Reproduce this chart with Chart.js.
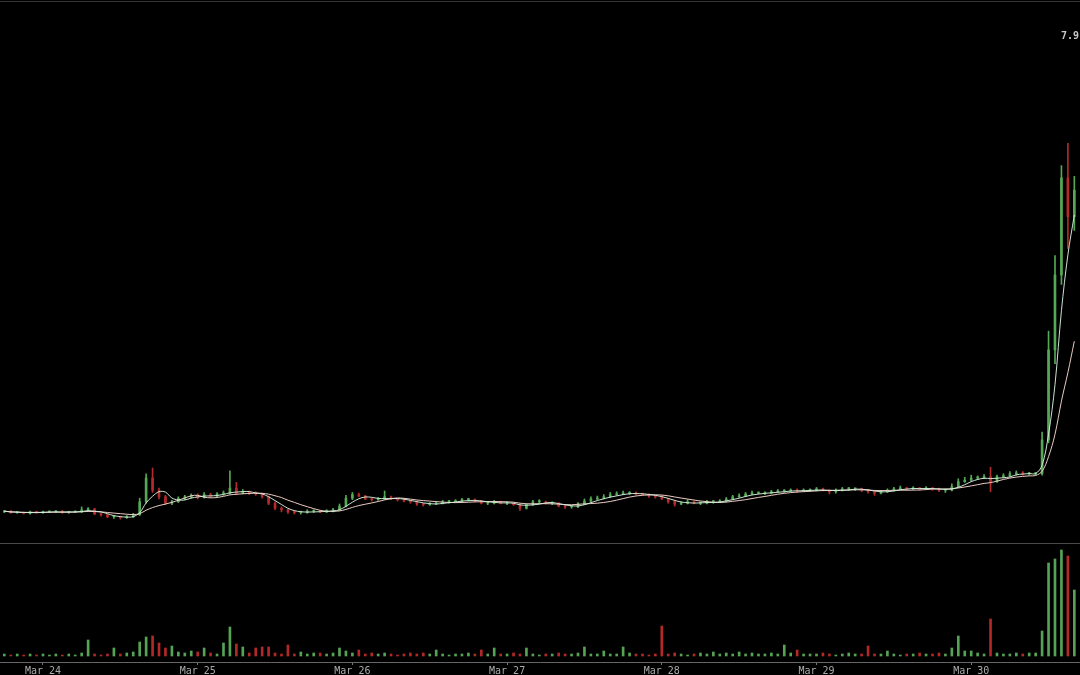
<!DOCTYPE html>
<html>
<head>
<meta charset="utf-8">
<script src="https://cdn.jsdelivr.net/npm/chart.js@4.4.1/dist/chart.umd.min.js"></script>
<style>
  html, body { margin:0; padding:0; background:#000; overflow:hidden; }
  #wrap { position:relative; width:1080px; height:675px; }
  #price { position:absolute; left:0; top:0; }
  #vol   { position:absolute; left:0; top:543px; }
  .rule  { position:absolute; left:0; width:1080px; height:1px; }
</style>
</head>
<body>
<div id="wrap">
  <canvas id="price" width="1080" height="543"></canvas>
  <canvas id="vol" width="1080" height="132"></canvas>
  <div class="rule" style="top:1px; background:#333"></div>
  <div class="rule" style="top:543px; background:#4a4a4a"></div>
</div>
<script>
// ============================================================
// Hourly candles, Mar 23 18:00 -> Mar 30 16:00 (hour 0 = Mar 24 00:00)
// ============================================================

const startHour = -6;
const firstOpen = 1.29;

const closes = [
  1.30,1.28,1.28,1.27,1.29,1.28,
  // Mar 24
  1.29,1.29,1.30,1.28,1.29,1.29,1.32,1.33,1.26,1.25,1.22,1.22,1.21,1.22,1.25,1.43,1.76,1.59,1.50,1.41,1.43,1.48,1.50,1.52,
  // Mar 25
  1.49,1.53,1.51,1.54,1.55,1.62,1.55,1.57,1.55,1.54,1.50,1.41,1.34,1.32,1.29,1.28,1.28,1.30,1.30,1.29,1.30,1.32,1.37,1.48,
  // Mar 26
  1.53,1.51,1.47,1.46,1.47,1.50,1.47,1.46,1.44,1.43,1.40,1.39,1.40,1.41,1.43,1.43,1.44,1.46,1.46,1.44,1.41,1.41,1.43,1.41,
  // Mar 27
  1.41,1.39,1.34,1.39,1.43,1.43,1.41,1.41,1.37,1.36,1.36,1.40,1.44,1.47,1.48,1.50,1.53,1.54,1.55,1.55,1.54,1.53,1.51,1.50,
  // Mar 28
  1.47,1.43,1.40,1.41,1.43,1.41,1.41,1.43,1.43,1.44,1.47,1.50,1.51,1.54,1.55,1.55,1.55,1.57,1.58,1.58,1.59,1.58,1.59,1.59,
  // Mar 29
  1.61,1.59,1.57,1.59,1.61,1.61,1.61,1.59,1.57,1.55,1.57,1.59,1.61,1.62,1.61,1.62,1.61,1.62,1.61,1.59,1.59,1.64,1.71,1.73,
  // Mar 30
  1.76,1.76,1.78,1.71,1.78,1.79,1.82,1.83,1.82,1.82,1.82,2.29,3.54,4.58,5.93,5.39,5.76
];

const highs = [
  1.31,1.31,1.29,1.29,1.30,1.30,
  1.30,1.30,1.31,1.31,1.30,1.30,1.36,1.35,1.34,1.27,1.26,1.24,1.23,1.24,1.27,1.48,1.82,1.90,1.62,1.52,1.45,1.50,1.52,1.54,
  1.54,1.56,1.55,1.56,1.58,1.86,1.70,1.60,1.58,1.57,1.55,1.51,1.43,1.36,1.33,1.31,1.30,1.32,1.32,1.31,1.32,1.34,1.40,1.52,
  1.56,1.55,1.52,1.48,1.49,1.58,1.51,1.48,1.47,1.45,1.44,1.41,1.42,1.43,1.45,1.45,1.46,1.48,1.48,1.47,1.45,1.43,1.45,1.44,
  1.43,1.42,1.40,1.40,1.45,1.46,1.44,1.43,1.42,1.38,1.38,1.42,1.47,1.50,1.51,1.53,1.56,1.57,1.58,1.57,1.57,1.55,1.54,1.52,
  1.52,1.48,1.45,1.43,1.46,1.44,1.43,1.45,1.45,1.46,1.49,1.52,1.54,1.56,1.58,1.57,1.57,1.59,1.60,1.60,1.61,1.61,1.61,1.61,
  1.63,1.62,1.60,1.61,1.63,1.63,1.62,1.62,1.60,1.58,1.59,1.61,1.63,1.65,1.63,1.64,1.63,1.64,1.63,1.62,1.61,1.68,1.75,1.77,
  1.80,1.79,1.81,1.91,1.80,1.82,1.85,1.86,1.85,1.84,1.84,2.40,3.80,4.85,6.10,6.41,5.95
];

const lows = [
  1.28,1.27,1.27,1.26,1.26,1.27,
  1.27,1.28,1.28,1.27,1.27,1.28,1.28,1.30,1.25,1.23,1.21,1.20,1.19,1.20,1.21,1.24,1.41,1.56,1.47,1.39,1.39,1.42,1.46,1.48,
  1.47,1.48,1.49,1.50,1.52,1.54,1.53,1.54,1.53,1.52,1.48,1.39,1.32,1.29,1.27,1.26,1.26,1.27,1.28,1.28,1.28,1.29,1.31,1.36,
  1.46,1.50,1.46,1.44,1.45,1.46,1.46,1.44,1.43,1.41,1.38,1.37,1.38,1.39,1.40,1.41,1.42,1.43,1.44,1.43,1.40,1.39,1.40,1.40,
  1.39,1.38,1.31,1.33,1.38,1.41,1.40,1.39,1.36,1.34,1.34,1.35,1.39,1.43,1.46,1.47,1.49,1.52,1.53,1.53,1.53,1.52,1.49,1.48,
  1.46,1.41,1.37,1.39,1.40,1.40,1.39,1.40,1.41,1.42,1.43,1.46,1.49,1.50,1.53,1.54,1.53,1.54,1.56,1.56,1.57,1.56,1.57,1.58,
  1.58,1.58,1.54,1.55,1.58,1.59,1.59,1.57,1.55,1.52,1.54,1.56,1.58,1.60,1.59,1.60,1.59,1.60,1.59,1.57,1.56,1.58,1.63,1.70,
  1.72,1.74,1.75,1.57,1.70,1.76,1.78,1.80,1.80,1.80,1.80,1.80,2.25,3.35,4.45,4.95,5.20
];

const volumes = [
  2,1,2,1,2,1,
  2,1,2,1,2,1,3,16,2,1,2,8,2,3,4,14,19,20,13,8,10,4,3,5,
  4,8,3,2,13,29,12,9,3,8,9,9,3,2,11,2,4,2,3,3,2,3,8,5,
  3,6,2,3,2,3,2,1,2,3,2,3,2,6,2,1,2,2,3,2,6,2,8,2,
  2,3,2,8,2,1,2,2,3,2,2,3,9,2,2,5,2,2,9,3,2,2,1,2,
  30,2,3,2,1,2,3,2,4,2,3,2,4,2,3,2,2,3,2,11,3,6,2,2,
  2,3,2,1,2,3,2,2,10,2,2,5,2,1,2,2,3,2,2,3,2,8,20,5,
  5,3,2,37,3,2,2,3,2,3,3,25,93,97,106,100,66
];

const dayTicks  = [0, 24, 48, 72, 96, 120, 144];
const dayLabels = ['Mar 24','Mar 25','Mar 26','Mar 27','Mar 28','Mar 29','Mar 30'];
const priceMarks = [7.9];

const X_MIN = -6.67, X_MAX = 160.88;
const Y_MIN = 0.858, Y_MAX = 8.4;
const UP = '#55a855', DOWN = '#b52a2a';
const VOL_UP = '#55a355', VOL_DOWN = '#b32828';

// ---- derived
const hours = closes.map((_, i) => startHour + i);
const opens = closes.map((c, i) => i === 0 ? firstOpen : closes[i - 1]);
const isUp  = closes.map((c, i) => c >= opens[i]);

function sma(n) {
  return closes.map((_, i) => {
    const win = closes.slice(Math.max(0, i - n + 1), i + 1);
    return { x: hours[i], y: win.reduce((s, v) => s + v, 0) / win.length };
  });
}

const priceLabel = {
  id: 'priceLabel',
  afterDraw(chart) {
    const { ctx, chartArea, scales: { y } } = chart;
    ctx.save();
    ctx.font = 'bold 10px "DejaVu Sans Mono"';
    ctx.fillStyle = '#c8c8c8';
    ctx.textAlign = 'right';
    ctx.textBaseline = 'middle';
    priceMarks.forEach(v => ctx.fillText(v.toFixed(1), chartArea.right - 1, y.getPixelForValue(v)));
    ctx.restore();
  }
};

new Chart(document.getElementById('price'), {
  type: 'bar',
  data: {
    datasets: [
      { type: 'line', data: sma(4), borderColor: 'rgba(212,238,222,0.95)', borderWidth: 1,
        pointRadius: 0, tension: 0.35, order: 0 },
      { type: 'line', data: sma(9), borderColor: 'rgba(246,214,204,0.95)', borderWidth: 1,
        pointRadius: 0, tension: 0.35, order: 0 },
      { type: 'bar', data: hours.map((h, i) => ({ x: h, y: [opens[i], closes[i]] })),
        backgroundColor: isUp.map(u => u ? UP : DOWN), barThickness: 2, minBarLength: 1,
        grouped: false, order: 1 },
      { type: 'bar', data: hours.map((h, i) => ({ x: h, y: [lows[i], highs[i]] })),
        backgroundColor: isUp.map(u => u ? UP : DOWN), barThickness: 1,
        grouped: false, order: 2 },
    ],
  },
  options: {
    responsive: false, animation: false, devicePixelRatio: 1,
    layout: { padding: 0 },
    plugins: { legend: { display: false }, tooltip: { enabled: false } },
    scales: {
      x: { type: 'linear', min: X_MIN, max: X_MAX, offset: false, display: false },
      y: { type: 'linear', min: Y_MIN, max: Y_MAX, display: false },
    },
  },
  plugins: [priceLabel],
});

new Chart(document.getElementById('vol'), {
  type: 'bar',
  data: {
    datasets: [{
      data: hours.map((h, i) => ({ x: h, y: volumes[i] })),
      backgroundColor: isUp.map(u => u ? VOL_UP : VOL_DOWN),
      barThickness: 2, grouped: false,
    }],
  },
  options: {
    responsive: false, animation: false, devicePixelRatio: 1,
    layout: { padding: 0 },
    plugins: { legend: { display: false }, tooltip: { enabled: false } },
    scales: {
      x: {
        type: 'linear', min: X_MIN, max: X_MAX, offset: false,
        afterBuildTicks: s => { s.ticks = dayTicks.map(v => ({ value: v })); },
        afterFit: s => { s.height = 13; },
        ticks: {
          autoSkip: false, maxRotation: 0, padding: 0, color: '#aaa',
          font: { family: 'DejaVu Sans Mono', size: 10 },
          callback: (v, i) => dayLabels[i],
        },
        grid: { display: true, offset: false, drawOnChartArea: false, tickLength: 3, color: '#777' },
        border: { display: true, color: '#666' },
      },
      y: { type: 'linear', min: -6, max: 113, display: false },
    },
  },
});
</script>
</body>
</html>
